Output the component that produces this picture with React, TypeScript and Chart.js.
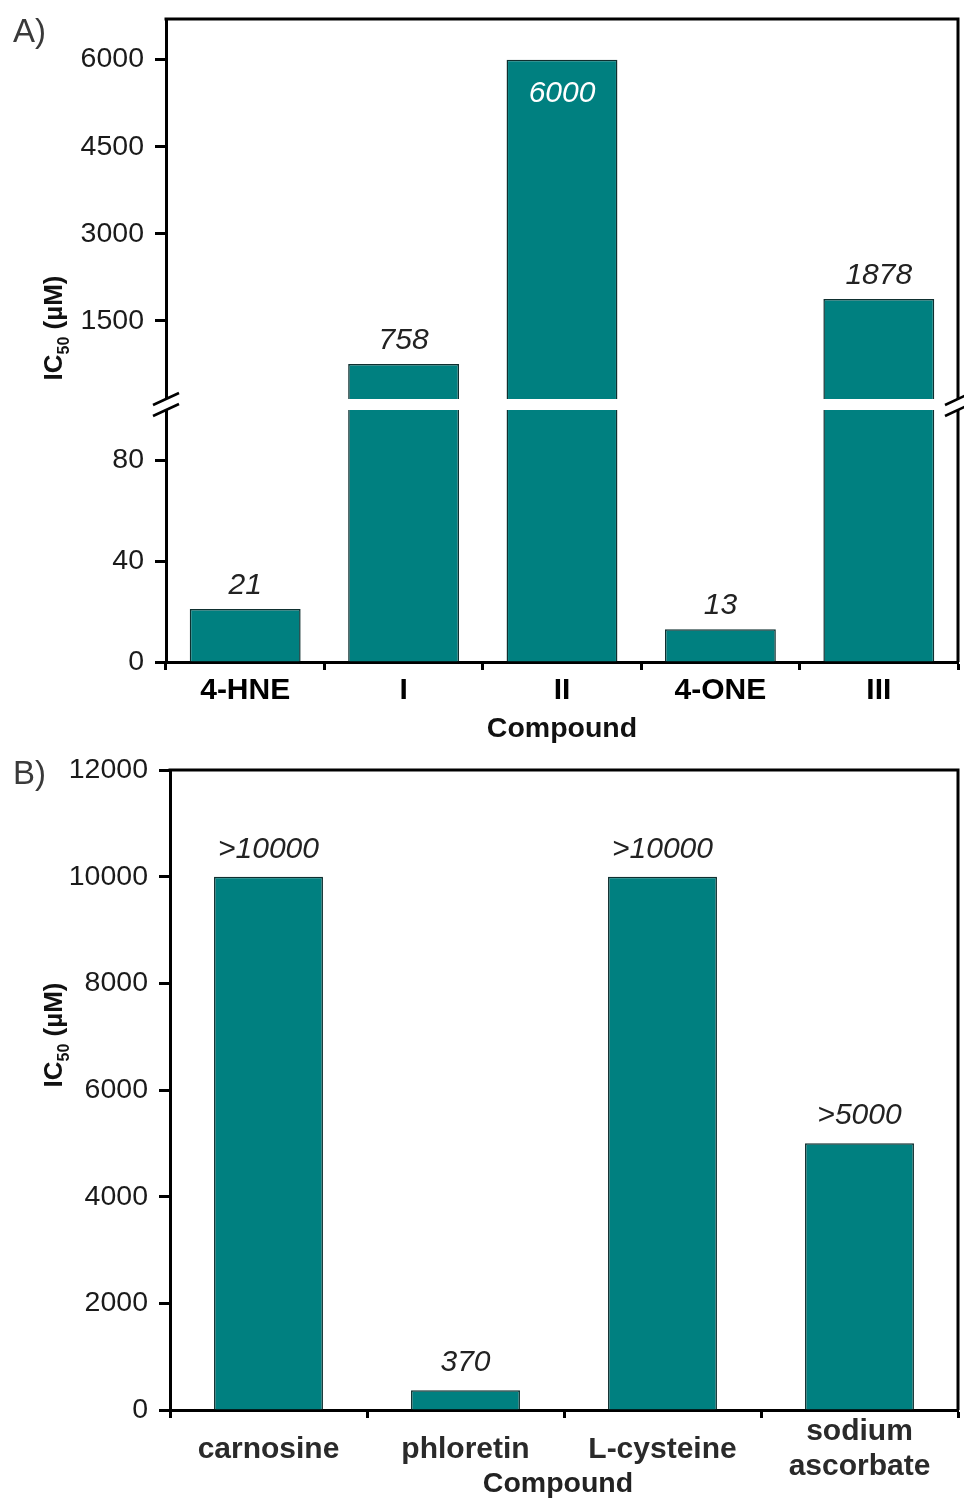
import React, { useEffect, useRef } from 'react';
import { Chart, registerables } from 'chart.js';

Chart.register(...registerables);

// ---------- Data ----------
const CAT_A = ['4-HNE', 'I', 'II', '4-ONE', 'III'];
const VAL_A = [21, 758, 6000, 13, 1878];
const LBL_A = ['21', '758', '6000', '13', '1878'];
const LOW_MAX = 102; // lower segment of broken axis
const UP_MIN = 50; // upper segment of broken axis
const UP_MAX = 6700;
const TICKS_LOW = [0, 40, 80];
const TICKS_UP = [1500, 3000, 4500, 6000];

const CAT_B = ['carnosine', 'phloretin', 'L-cysteine', ['sodium', 'ascorbate']];
const VAL_B = [10000, 370, 10000, 5000];
const LBL_B = ['>10000', '370', '>10000', '>5000'];
const TICKS_B = [0, 2000, 4000, 6000, 8000, 10000, 12000];

const Y_TITLE = ['IC', '50', ' (µM)'];
const X_TITLE = 'Compound';

// ---------- Styles ----------
const FONT = '"Liberation Sans", Arial, Helvetica, sans-serif';
const TEAL = '#008080';
const BAR_BORDER = '#0f2f2f';

function drawYTitle(ctx: CanvasRenderingContext2D, cx: number, cy: number) {
  ctx.save();
  ctx.translate(cx, cy);
  ctx.rotate(-Math.PI / 2);
  const big = `bold 26px ${FONT}`;
  const small = `bold 16px ${FONT}`;
  ctx.font = big;
  const w1 = ctx.measureText(Y_TITLE[0]).width;
  const w3 = ctx.measureText(Y_TITLE[2]).width;
  ctx.font = small;
  const w2 = ctx.measureText(Y_TITLE[1]).width;
  const total = w1 + w2 + w3;
  let x = -total / 2;
  ctx.fillStyle = '#111';
  ctx.textAlign = 'left';
  ctx.textBaseline = 'alphabetic';
  ctx.font = big;
  ctx.fillText(Y_TITLE[0], x, 12);
  x += w1;
  ctx.font = small;
  ctx.fillText(Y_TITLE[1], x, 19);
  x += w2;
  ctx.font = big;
  ctx.fillText(Y_TITLE[2], x, 12);
  ctx.restore();
}

function drawFrame(ctx: CanvasRenderingContext2D, ca: any) {
  ctx.save();
  ctx.strokeStyle = '#000';
  ctx.lineWidth = 3;
  ctx.beginPath();
  ctx.moveTo(ca.left - 1.5, ca.top);
  ctx.lineTo(ca.right, ca.top);
  ctx.lineTo(ca.right, ca.bottom);
  ctx.stroke();
  ctx.restore();
}

const panelAPlugin = {
  id: 'panelA',
  afterDraw(chart: any) {
    const { ctx, chartArea: ca } = chart;
    drawFrame(ctx, ca);
    // axis break
    const b = chart.scales.yLow.top;
    ctx.save();
    ctx.fillStyle = '#fff';
    ctx.fillRect(ca.left - 3, b - 6, ca.right - ca.left + 6, 11);
    ctx.strokeStyle = '#000';
    ctx.lineWidth = 2.5;
    [ca.left, ca.right].forEach((x) => {
      [b - 6, b + 5].forEach((y) => {
        ctx.beginPath();
        ctx.moveTo(x - 13, y + 6);
        ctx.lineTo(x + 13, y - 6);
        ctx.stroke();
      });
    });
    // value labels
    const mLow = chart.getDatasetMeta(0);
    const mUp = chart.getDatasetMeta(1);
    ctx.font = `italic 30px ${FONT}`;
    ctx.textAlign = 'center';
    ctx.textBaseline = 'alphabetic';
    VAL_A.forEach((v, i) => {
      const el = v > LOW_MAX ? mUp.data[i] : mLow.data[i];
      const top = el.y;
      const inside = top - ca.top < 50;
      ctx.fillStyle = inside ? '#fff' : '#222';
      ctx.fillText(LBL_A[i], el.x, inside ? top + 42 : top - 15);
    });
    // titles
    ctx.fillStyle = '#111';
    ctx.font = `bold 28.5px ${FONT}`;
    ctx.fillText(X_TITLE, (ca.left + ca.right) / 2, 737);
    ctx.fillStyle = '#3a3a3a';
    ctx.font = `33px ${FONT}`;
    ctx.textAlign = 'left';
    ctx.fillText('A)', 13, 42);
    ctx.restore();
    drawYTitle(ctx, 50, 328);
  },
};

const panelBPlugin = {
  id: 'panelB',
  afterDraw(chart: any) {
    const { ctx, chartArea: ca } = chart;
    drawFrame(ctx, ca);
    const m = chart.getDatasetMeta(0);
    ctx.save();
    ctx.font = `italic 30px ${FONT}`;
    ctx.textAlign = 'center';
    ctx.textBaseline = 'alphabetic';
    ctx.fillStyle = '#222';
    VAL_B.forEach((v, i) => {
      const el = m.data[i];
      ctx.fillText(LBL_B[i], el.x, el.y - 19);
    });
    ctx.fillStyle = '#222';
    ctx.font = `bold 28.5px ${FONT}`;
    ctx.fillText(X_TITLE, (ca.left + ca.right) / 2 - 6, 742);
    ctx.fillStyle = '#3a3a3a';
    ctx.font = `33px ${FONT}`;
    ctx.textAlign = 'left';
    ctx.fillText('B)', 13, 34);
    ctx.restore();
    drawYTitle(ctx, 50, 285);
  },
};

function yAxisCommon(width: number, ticks: number[]) {
  return {
    type: 'linear' as const,
    position: 'left' as const,
    border: { display: true, width: 3, color: '#000' },
    grid: {
      display: true,
      drawOnChartArea: false,
      drawTicks: true,
      tickLength: 11,
      tickWidth: 3,
      tickColor: '#000',
    },
    ticks: {
      color: '#1a1a1a',
      font: { family: FONT, size: 28.5 },
      padding: 11,
      callback: (v: any) => String(v),
    },
    afterBuildTicks: (s: any) => {
      s.ticks = ticks.map((v) => ({ value: v }));
    },
    afterFit: (s: any) => {
      s.width = width;
      s.paddingTop = 0;
      s.paddingBottom = 0;
    },
  };
}

function xAxisCommon(color: string, padding: number, lineHeight: number) {
  return {
    border: { display: true, width: 3, color: '#000' },
    grid: {
      display: true,
      drawOnChartArea: false,
      drawTicks: true,
      tickLength: 8,
      tickWidth: 3,
      tickColor: '#000',
    },
    ticks: {
      color,
      font: { family: FONT, size: 30, weight: 'bold' as const, lineHeight },
      padding,
      maxRotation: 0,
      autoSkip: false,
      crossAlign: 'center' as const,
    },
    afterFit: (s: any) => {
      s.height = 88;
      s.paddingLeft = 0;
      s.paddingRight = 0;
    },
  };
}

function PanelA() {
  const ref = useRef<HTMLCanvasElement>(null);
  useEffect(() => {
    const low = VAL_A.map((v) => Math.min(v, LOW_MAX));
    const up = VAL_A.map((v) => (v > LOW_MAX ? v : null));
    const barStyle = {
      backgroundColor: TEAL,
      borderColor: BAR_BORDER,
      borderWidth: 1.5,
      barPercentage: 1,
      categoryPercentage: 0.7,
      grouped: false,
    };
    const chart = new Chart(ref.current as HTMLCanvasElement, {
      type: 'bar',
      data: {
        labels: CAT_A,
        datasets: [
          { data: low, yAxisID: 'yLow', ...barStyle } as any,
          { data: up, yAxisID: 'yUp', ...barStyle } as any,
        ],
      },
      options: {
        responsive: false,
        animation: false,
        layout: { padding: { top: 19, right: 6, left: 0, bottom: 0 } },
        plugins: { legend: { display: false }, tooltip: { enabled: false } },
        scales: {
          x: xAxisCommon('#000', 21, 1.2) as any,
          yLow: {
            ...yAxisCommon(166, TICKS_LOW),
            stack: 'a',
            stackWeight: 257,
            min: 0,
            max: LOW_MAX,
          } as any,
          yUp: {
            ...yAxisCommon(166, TICKS_UP),
            stack: 'a',
            stackWeight: 386,
            min: UP_MIN,
            max: UP_MAX,
          } as any,
        },
      },
      plugins: [panelAPlugin],
    });
    return () => chart.destroy();
  }, []);
  return (
    <canvas
      ref={ref}
      width={964}
      height={750}
      style={{ position: 'absolute', left: 0, top: 0, width: 964, height: 750 }}
    />
  );
}

function PanelB() {
  const ref = useRef<HTMLCanvasElement>(null);
  useEffect(() => {
    const chart = new Chart(ref.current as HTMLCanvasElement, {
      type: 'bar',
      data: {
        labels: CAT_B as any,
        datasets: [
          {
            data: VAL_B,
            backgroundColor: TEAL,
            borderColor: BAR_BORDER,
            borderWidth: 1.5,
            barPercentage: 1,
            categoryPercentage: 0.553,
          },
        ],
      },
      options: {
        responsive: false,
        animation: false,
        layout: { padding: { top: 20, right: 6, left: 0, bottom: 0 } },
        plugins: { legend: { display: false }, tooltip: { enabled: false } },
        scales: {
          x: xAxisCommon('#2a2a2a', 14, 1.17) as any,
          y: {
            ...yAxisCommon(170, TICKS_B),
            min: 0,
            max: 12000,
          } as any,
        },
      },
      plugins: [panelBPlugin],
    });
    return () => chart.destroy();
  }, []);
  return (
    <canvas
      ref={ref}
      width={964}
      height={748}
      style={{ position: 'absolute', left: 0, top: 750, width: 964, height: 748 }}
    />
  );
}

export default function App() {
  return (
    <div style={{ position: 'absolute', left: 0, top: 0, width: 964, height: 1498, background: '#fff' }}>
      <PanelA />
      <PanelB />
    </div>
  );
}
